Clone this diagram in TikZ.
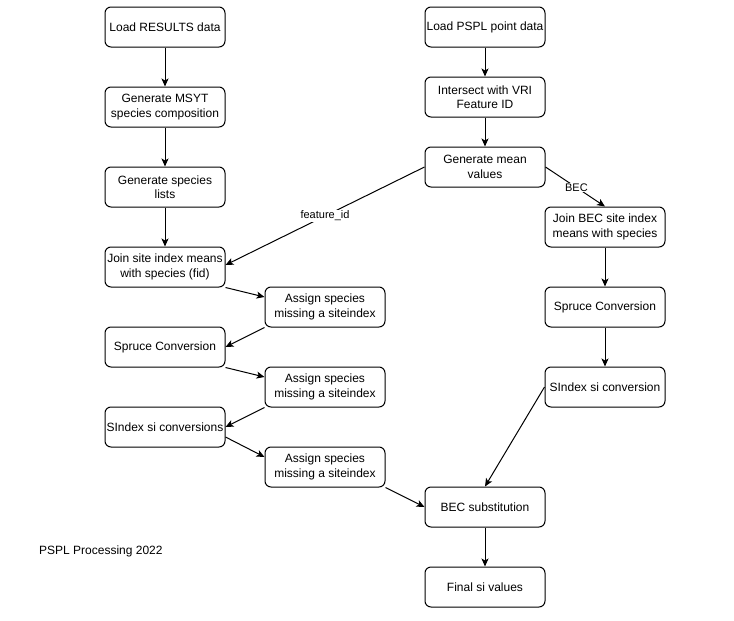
\documentclass[tikz,border=0pt]{standalone}
\usepackage{fontspec}
\setmainfont{Liberation Sans}
\usetikzlibrary{arrows.meta}
\begin{document}
\begin{tikzpicture}[x=1pt,y=-1pt,
  stepbox/.style={draw=black,line width=1pt,rounded corners=6pt,
    minimum width=120pt,minimum height=40pt,inner sep=0pt,align=center,
    font=\fontsize{12}{14.5}\selectfont,text=black,fill=white},
  flow/.style={draw=black,line width=1pt,
    -{Stealth[length=8pt,width=7pt,inset=2pt]}},
  edgelabel/.style={fill=white,inner sep=1pt,font=\fontsize{11}{13}\selectfont},
]
\useasboundingbox (0,0) rectangle (734,621);

% left column: RESULTS processing
\node[stepbox] (lr)  at (165,27)  {Load RESULTS data};
\node[stepbox] (gm)  at (165,107) {Generate MSYT\\species composition};
\node[stepbox] (gl)  at (165,187) {Generate species\\lists};
\node[stepbox] (js)  at (165,267) {Join site index means\\with species (fid)};
\node[stepbox] (a1)  at (325,307) {Assign species\\missing a siteindex};
\node[stepbox] (sc)  at (165,347) {Spruce Conversion};
\node[stepbox] (a2)  at (325,387) {Assign species\\missing a siteindex};
\node[stepbox] (si)  at (165,427) {SIndex si conversions};
\node[stepbox] (a3)  at (325,467) {Assign species\\missing a siteindex};

% right column: PSPL processing
\node[stepbox] (lp)  at (485,27)  {Load PSPL point data};
\node[stepbox] (iv)  at (485,97)  {Intersect with VRI\\Feature ID};
\node[stepbox] (mv)  at (485,167) {Generate mean\\values};
\node[stepbox] (jb)  at (605,227) {Join BEC site index\\means with species};
\node[stepbox] (sr)  at (605,307) {Spruce Conversion};
\node[stepbox] (sir) at (605,387) {SIndex si conversion};
\node[stepbox] (bs)  at (485,507) {BEC substitution};
\node[stepbox] (fv)  at (485,587) {Final si values};

\node[anchor=west,inner sep=0pt,font=\fontsize{12}{14}\selectfont] (title) at (39,551) {PSPL Processing 2022};

% connectors
\draw[flow] (lr.south) -- (gm.north);
\draw[flow] (gm.south) -- (gl.north);
\draw[flow] (gl.south) -- (js.north);
\draw[flow] (lp.south) -- (iv.north);
\draw[flow] (iv.south) -- (mv.north);
\draw[flow] (mv.west) -- node[edgelabel] {feature\_id} ([yshift=2pt]js.east);
\draw[flow] (mv.east) -- node[edgelabel,pos=0.52] {BEC} (jb.north);
\draw[flow] (js.south east) -- ([yshift=10pt]a1.west);
\draw[flow] (a1.south west) -- (sc.east);
\draw[flow] (sc.south east) -- ([yshift=10pt]a2.west);
\draw[flow] (a2.south west) -- (si.east);
\draw[flow] ([yshift=-10pt]si.east) -- ([yshift=10pt]a3.west);
\draw[flow] (a3.south east) -- (bs.west);
\draw[flow] (jb.south) -- (sr.north);
\draw[flow] (sr.south) -- (sir.north);
\draw[flow] (sir.west) -- (bs.north);
\draw[flow] (bs.south) -- (fv.north);
\end{tikzpicture}
\end{document}
